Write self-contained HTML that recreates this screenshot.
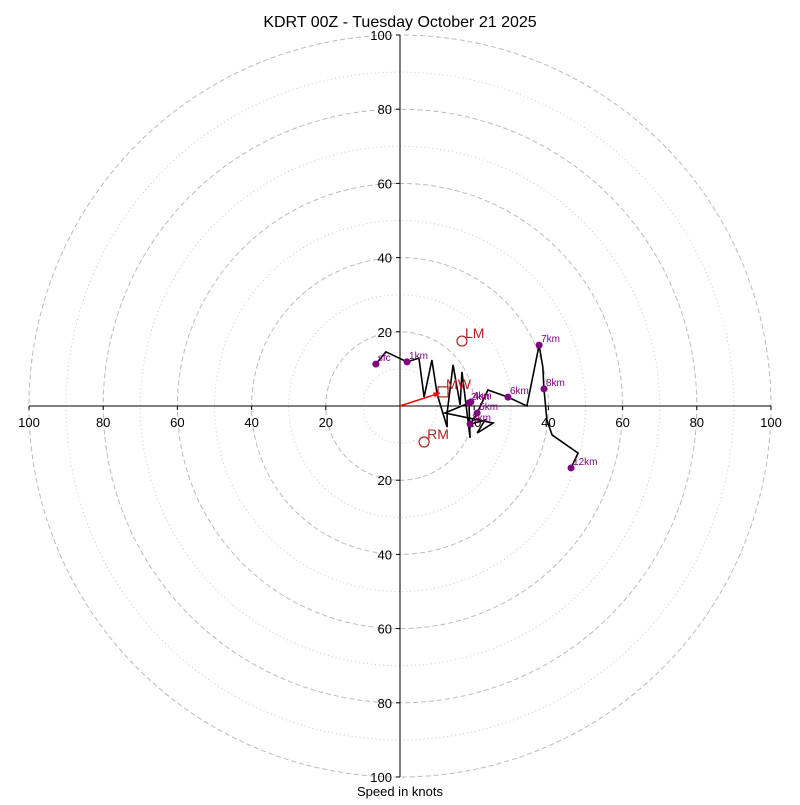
<!DOCTYPE html>
<html><head><meta charset="utf-8"><style>
body{margin:0;background:#fff}
svg text{font-family:"Liberation Sans",sans-serif}
</style></head><body>
<svg id="c" width="800" height="800" viewBox="0 0 800 800" xmlns="http://www.w3.org/2000/svg">
<rect width="800" height="800" fill="#fff"/>
<text x="400" y="27" font-size="16" text-anchor="middle">KDRT 00Z - Tuesday October 21 2025</text>
<text x="400" y="796" font-size="13" text-anchor="middle">Speed in knots</text>
<g id="rings"></g><g id="axes"></g><g id="trace"></g><g id="marks"></g>
</svg>
<script>
const uKts=[-6.5,-3.8,1.9,5.1,6.5,8.6,10.0,12.7,12.7,14.3,16.2,16.7,18.9,18.6,12.1,25.1,20.8,22.9,18.9,20.8,23.7,29.1,34.2,37.5,38.5,38.8,39.6,41.0,48.0,46.1];
const vKts=[11.3,14.6,11.9,12.9,2.4,12.4,3.2,-5.7,-1.9,11.1,0.3,9.2,-8.6,0.8,-1.9,-4.6,-7.3,-3.8,-4.9,-1.9,4.3,2.4,0,16.4,10.5,4.6,-3.8,-7.8,-12.7,-16.7];
const markerLabels=["sfc","1km","2km","3km","4km","5km","6km","7km","8km","12km"];
const markerU=[-6.5,1.9,18.6,18.9,19.1,20.8,29.1,37.5,38.8,46.1];
const markerV=[11.3,11.9,0.8,-4.9,1.1,-1.9,2.4,16.4,4.6,-16.7];
const ringValues=[10,20,30,40,50,60,70,80,90,100];
const tickValues=[20,40,60,80,100];
const lmUV=[16.7,17.5], rmUV=[6.5,-9.7], mwUV=[11.6,3.8];
const NS="http://www.w3.org/2000/svg";
const cx=400,cy=406,k=3.71;
const X=u=>cx+u*k, Y=v=>cy-v*k;
function mk(p,t,a){const e=document.createElementNS(NS,t);for(const n in a)e.setAttribute(n,a[n]);p.appendChild(e);return e;}
const rings=document.getElementById('rings');
ringValues.forEach(r=>{
 const e=mk(rings,'circle',{cx:cx,cy:cy,r:r*k,fill:'none',stroke:r%20==0?'#bbb':'#ccc','stroke-width':1,'stroke-dasharray':r%20==0?'5,3':'1,3'});
 
 
});
const ax=document.getElementById('axes');
let l=mk(ax,'line',{x1:X(-100),y1:cy,x2:X(100),y2:cy,stroke:'#000','stroke-width':1});


l=mk(ax,'line',{x1:cx,y1:Y(100),x2:cx,y2:Y(-100),stroke:'#000','stroke-width':1});


tickValues.forEach(t=>{
 [-1,1].forEach(s=>{
  mk(ax,'line',{x1:X(s*t),y1:cy,x2:X(s*t),y2:cy+4,stroke:'#000'});
  let tx=mk(ax,'text',{x:X(s*t),y:cy+21,'font-size':13,'text-anchor':'middle'});tx.textContent=t;
  
  
  mk(ax,'line',{x1:cx-4,y1:Y(s*t),x2:cx,y2:Y(s*t),stroke:'#000'});
  let ty=mk(ax,'text',{x:cx-8,y:Y(s*t)+5,'font-size':13,'text-anchor':'end'});ty.textContent=t;
  
  
 });
});
const tr=document.getElementById('trace');
const pl=mk(tr,'polyline',{points:uKts.map((u,i)=>X(u)+','+Y(vKts[i])).join(' '),fill:'none',stroke:'#000','stroke-width':1.6});


const m=document.getElementById('marks');
markerLabels.forEach((lab,i)=>{
 const c=mk(m,'circle',{cx:X(markerU[i]),cy:Y(markerV[i]),r:3.5,fill:'#800080'});
 
 
 const t=mk(m,'text',{x:X(markerU[i])+2,y:Y(markerV[i])-3,'font-size':10,fill:'#800080'});t.textContent=lab;
 
 
});
const red='#b22222';
let e=mk(m,'circle',{cx:X(lmUV[0]),cy:Y(lmUV[1]),r:5,fill:'none',stroke:red,'stroke-width':1.2});


e=mk(m,'text',{x:X(lmUV[0])+3,y:Y(lmUV[1])-3,'font-size':14,fill:red});e.textContent='LM';


e=mk(m,'circle',{cx:X(rmUV[0]),cy:Y(rmUV[1]),r:5,fill:'none',stroke:red,'stroke-width':1.2});


e=mk(m,'text',{x:X(rmUV[0])+3,y:Y(rmUV[1])-3,'font-size':14,fill:red});e.textContent='RM';


e=mk(m,'rect',{x:X(mwUV[0])-5,y:Y(mwUV[1])-5,width:10,height:10,fill:'none',stroke:red,'stroke-width':1.2});


e=mk(m,'text',{x:X(mwUV[0])+3,y:Y(mwUV[1])-3,'font-size':14,fill:red});e.textContent='MW';


const ex=X(mwUV[0])-3,ey=Y(mwUV[1])+1;
e=mk(m,'line',{x1:cx,y1:cy,x2:ex,y2:ey,stroke:'red','stroke-width':1.5});


const ang=Math.atan2(ey-cy,ex-cx);
mk(m,'polygon',{points:[ex,ey,ex-7*Math.cos(ang-0.4),ey-7*Math.sin(ang-0.4),ex-7*Math.cos(ang+0.4),ey-7*Math.sin(ang+0.4)].join(' '),fill:'red'});
</script>
</body></html>
